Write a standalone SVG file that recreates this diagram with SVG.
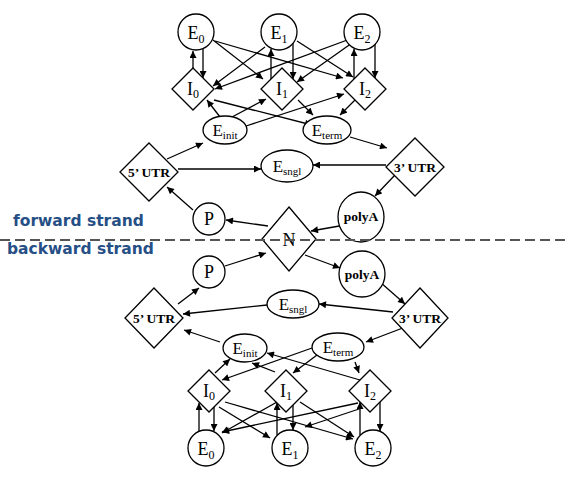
<svg xmlns="http://www.w3.org/2000/svg" width="569" height="479" viewBox="0 0 569 479">
<style>
.n{fill:#fff;stroke:#000;stroke-width:1.3}
.c line{stroke:#000;stroke-width:1.3;marker-end:url(#ah)}
.t{font-family:"Liberation Serif","Times New Roman",serif;font-size:18px;text-anchor:middle;fill:#000}
.s{font-size:12px}
.e{font-size:17px}
.e .s{font-size:11px}
.b{font-family:"Liberation Serif","Times New Roman",serif;font-size:13.5px;font-weight:bold;text-anchor:middle;fill:#000}
.lab{font-family:"DejaVu Sans",Verdana,sans-serif;font-size:15.5px;font-weight:bold;fill:#264f86}
</style>
<defs>
<marker id="ah" viewBox="0 0 10 10" refX="10" refY="5" markerWidth="8" markerHeight="7" orient="auto" markerUnits="userSpaceOnUse">
<path d="M0,0 L10,5 L0,10 z" fill="#000"/>
</marker>
</defs>
<rect width="569" height="479" fill="#fff"/>

<g id="connectors" class="c">
<!-- forward strand -->
<line x1="193" y1="68" x2="193" y2="51"/>
<line x1="203" y1="49" x2="203" y2="78"/>
<line x1="271" y1="79" x2="271" y2="49"/>
<line x1="293" y1="43" x2="293" y2="79"/>
<line x1="354" y1="79" x2="354" y2="49"/>
<line x1="375" y1="44" x2="375" y2="78"/>
<line x1="213" y1="40" x2="263" y2="79"/>
<line x1="215" y1="41" x2="343" y2="78"/>
<line x1="265" y1="47" x2="213" y2="86"/>
<line x1="297" y1="41" x2="353" y2="77"/>
<line x1="350" y1="39" x2="215" y2="89"/>
<line x1="352" y1="43" x2="297" y2="82"/>
<line x1="220" y1="117" x2="207" y2="100"/>
<line x1="232" y1="117" x2="266" y2="99"/>
<line x1="246" y1="126" x2="344" y2="94"/>
<line x1="214" y1="100" x2="312" y2="125"/>
<line x1="298" y1="100" x2="313" y2="115"/>
<line x1="355" y1="100" x2="340" y2="115"/>
<line x1="350" y1="137" x2="387" y2="148"/>
<line x1="167" y1="159" x2="203" y2="143"/>
<line x1="178" y1="169" x2="261" y2="169"/>
<line x1="386" y1="165" x2="313" y2="165"/>
<line x1="395" y1="175" x2="375" y2="196"/>
<line x1="345" y1="225" x2="311" y2="231"/>
<line x1="268" y1="226" x2="226" y2="220"/>
<line x1="193" y1="210" x2="167" y2="187"/>
<!-- backward strand -->
<line x1="225" y1="266" x2="266" y2="253"/>
<line x1="305" y1="255" x2="340" y2="268"/>
<line x1="380" y1="282" x2="405" y2="304"/>
<line x1="393" y1="312" x2="319" y2="304"/>
<line x1="267" y1="305" x2="183" y2="314"/>
<line x1="178" y1="304" x2="199" y2="288"/>
<line x1="220" y1="342" x2="184" y2="330"/>
<line x1="408" y1="326" x2="366" y2="342"/>
<line x1="312" y1="348" x2="222" y2="380"/>
<line x1="317" y1="355" x2="293" y2="373"/>
<line x1="355" y1="362" x2="359" y2="373"/>
<line x1="215" y1="373" x2="230" y2="359"/>
<line x1="275" y1="372" x2="252" y2="363"/>
<line x1="360" y1="380" x2="267" y2="353"/>
<line x1="199" y1="431" x2="199" y2="403"/>
<line x1="214" y1="407" x2="214" y2="431"/>
<line x1="277" y1="435" x2="277" y2="403"/>
<line x1="293" y1="405" x2="293" y2="430"/>
<line x1="360" y1="435" x2="360" y2="402"/>
<line x1="380" y1="402" x2="380" y2="431"/>
<line x1="219" y1="407" x2="270" y2="438"/>
<line x1="225" y1="402" x2="353" y2="439"/>
<line x1="277" y1="402" x2="222" y2="433"/>
<line x1="300" y1="402" x2="354" y2="437"/>
<line x1="358" y1="403" x2="222" y2="432"/>
<line x1="362" y1="408" x2="305" y2="427"/>
</g>

<!-- forward strand nodes -->
<g id="fE0"><circle class="n" cx="196" cy="32" r="18"/><text class="t" x="196" y="39">E<tspan class="s" dy="4">0</tspan></text></g>
<g id="fE1"><circle class="n" cx="279" cy="32" r="18"/><text class="t" x="279" y="39">E<tspan class="s" dy="4">1</tspan></text></g>
<g id="fE2"><circle class="n" cx="362" cy="32" r="18"/><text class="t" x="362" y="39">E<tspan class="s" dy="4">2</tspan></text></g>
<g id="fI0"><polygon class="n" points="193,68 214,89 193,110 172,89"/><text class="t" x="193" y="95">I<tspan class="s" dy="3">0</tspan></text></g>
<g id="fI1"><polygon class="n" points="282,68 303,89 282,110 261,89"/><text class="t" x="282" y="95">I<tspan class="s" dy="3">1</tspan></text></g>
<g id="fI2"><polygon class="n" points="365,68 386,89 365,110 344,89"/><text class="t" x="365" y="95">I<tspan class="s" dy="3">2</tspan></text></g>
<g id="fEinit"><ellipse class="n" cx="225" cy="130" rx="22" ry="14"/><text class="t e" x="225" y="136">E<tspan class="s" dy="3">init</tspan></text></g>
<g id="fEterm"><ellipse class="n" cx="327" cy="130" rx="24" ry="14"/><text class="t e" x="327" y="136">E<tspan class="s" dy="3">term</tspan></text></g>
<g id="f5UTR"><polygon class="n" points="149,143 178,172 149,201 120,172"/><text class="b" x="149" y="177">5’ UTR</text></g>
<g id="fEsngl"><ellipse class="n" cx="287" cy="166" rx="26" ry="16"/><text class="t e" x="287" y="172">E<tspan class="s" dy="3">sngl</tspan></text></g>
<g id="f3UTR"><polygon class="n" points="415,138 444,167 415,196 386,167"/><text class="b" x="415" y="172">3’ UTR</text></g>
<g id="fP"><circle class="n" cx="209" cy="219" r="16"/><text class="t" x="209" y="225">P</text></g>
<g id="fpolyA"><ellipse class="n" cx="361" cy="217" rx="23" ry="25"/><text class="b" x="361" y="221">polyA</text></g>
<g id="N"><polygon class="n" points="289,207 316,239 289,271 262,239"/><text class="t" x="289" y="246">N</text></g>

<!-- backward strand nodes -->
<g id="bP"><circle class="n" cx="209" cy="272" r="16"/><text class="t" x="209" y="278">P</text></g>
<g id="bpolyA"><ellipse class="n" cx="362" cy="274" rx="23" ry="23"/><text class="b" x="362" y="279">polyA</text></g>
<g id="b5UTR"><polygon class="n" points="154,288 183,318 154,348 125,318"/><text class="b" x="154" y="323">5’ UTR</text></g>
<g id="bEsngl"><ellipse class="n" cx="293" cy="304" rx="26" ry="14"/><text class="t e" x="293" y="310">E<tspan class="s" dy="3">sngl</tspan></text></g>
<g id="b3UTR"><polygon class="n" points="420,288 448,318 420,348 392,318"/><text class="b" x="420" y="323">3’ UTR</text></g>
<g id="bEinit"><ellipse class="n" cx="245" cy="348" rx="22" ry="14"/><text class="t e" x="245" y="354">E<tspan class="s" dy="3">init</tspan></text></g>
<g id="bEterm"><ellipse class="n" cx="338" cy="347" rx="26" ry="14"/><text class="t e" x="338" y="353">E<tspan class="s" dy="3">term</tspan></text></g>
<g id="bI0"><polygon class="n" points="209,370 230,391 209,412 188,391"/><text class="t" x="209" y="397">I<tspan class="s" dy="3">0</tspan></text></g>
<g id="bI1"><polygon class="n" points="286,370 307,391 286,412 265,391"/><text class="t" x="286" y="397">I<tspan class="s" dy="3">1</tspan></text></g>
<g id="bI2"><polygon class="n" points="370,370 391,391 370,412 349,391"/><text class="t" x="370" y="397">I<tspan class="s" dy="3">2</tspan></text></g>
<g id="bE0"><circle class="n" cx="206" cy="448" r="18"/><text class="t" x="206" y="455">E<tspan class="s" dy="4">0</tspan></text></g>
<g id="bE1"><circle class="n" cx="290" cy="448" r="18"/><text class="t" x="290" y="455">E<tspan class="s" dy="4">1</tspan></text></g>
<g id="bE2"><circle class="n" cx="373" cy="448" r="18"/><text class="t" x="373" y="455">E<tspan class="s" dy="4">2</tspan></text></g>

<g id="strands">
<line x1="0" y1="240" x2="569" y2="240" stroke="#555" stroke-width="2" stroke-dasharray="10 5"/>
<text class="lab" x="13" y="226">forward strand</text>
<text class="lab" x="7" y="254">backward strand</text>
</g>
</svg>
